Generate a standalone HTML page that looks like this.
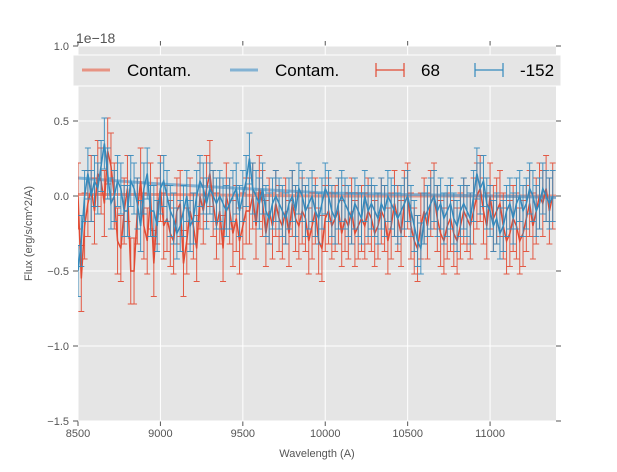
<!DOCTYPE html>
<html><head><meta charset="utf-8"><style>
body{margin:0;background:#fff;font-family:"Liberation Sans",sans-serif}
svg text{font-family:"Liberation Sans",sans-serif}
</style></head><body>
<svg id="c" width="617" height="467" xmlns="http://www.w3.org/2000/svg"></svg>
<script>
const wave=[8500,8520,8540,8560,8580,8600,8620,8640,8660,8680,8700,8720,8740,8760,8780,8800,8820,8840,8860,8880,8900,8920,8940,8960,8980,9000,9020,9040,9060,9080,9100,9120,9140,9160,9180,9200,9220,9240,9260,9280,9300,9320,9340,9360,9380,9400,9420,9440,9460,9480,9500,9520,9540,9560,9580,9600,9620,9640,9660,9680,9700,9720,9740,9760,9780,9800,9820,9840,9860,9880,9900,9920,9940,9960,9980,10000,10020,10040,10060,10080,10100,10120,10140,10160,10180,10200,10220,10240,10260,10280,10300,10320,10340,10360,10380,10400,10420,10440,10460,10480,10500,10520,10540,10560,10580,10600,10620,10640,10660,10680,10700,10720,10740,10760,10780,10800,10820,10840,10860,10880,10900,10920,10940,10960,10980,11000,11020,11040,11060,11080,11100,11120,11140,11160,11180,11200,11220,11240,11260,11280,11300,11320,11340,11360,11380];
const flux68=[0.0,-0.55,-0.2,-0.05,0.05,-0.1,0.15,0.1,-0.05,0.3,
0.2,0.0,-0.3,-0.35,-0.1,0.05,-0.5,-0.5,-0.1,0.1,
-0.2,-0.3,0.0,-0.45,-0.1,0.05,-0.2,-0.15,-0.25,-0.3,
-0.1,-0.05,-0.45,-0.3,-0.1,-0.2,-0.35,0.0,-0.1,0.05,
0.15,-0.05,-0.2,-0.1,-0.35,0.0,-0.1,-0.25,-0.15,-0.3,
-0.2,-0.1,-0.1,0.0,-0.2,0.05,-0.05,-0.25,-0.1,-0.2,
-0.05,-0.15,-0.2,-0.1,-0.25,-0.05,-0.15,-0.2,-0.1,-0.15,
-0.3,-0.2,-0.1,-0.3,-0.35,-0.15,-0.1,-0.2,-0.15,-0.1,
-0.25,-0.15,-0.2,-0.1,-0.25,-0.2,-0.15,-0.2,-0.1,-0.15,
-0.25,-0.2,-0.1,-0.15,-0.3,-0.2,-0.05,-0.15,-0.25,-0.05,
0.0,-0.2,-0.3,-0.35,-0.2,-0.1,-0.2,-0.05,0.0,-0.15,
-0.25,-0.3,-0.2,-0.15,-0.25,-0.3,-0.2,-0.1,-0.15,-0.2,
-0.1,0.0,0.05,-0.1,-0.2,0.0,-0.15,-0.1,-0.05,-0.2,
-0.3,-0.25,-0.15,-0.2,-0.3,-0.25,-0.15,-0.05,-0.2,-0.1,
0.0,-0.05,0.05,-0.1,0.0];
const flux152=[-0.5,-0.3,0.0,0.15,0.0,0.1,0.05,0.2,0.35,0.15,
-0.05,0.0,0.1,0.05,-0.1,-0.1,0.1,0.05,-0.05,-0.2,
0.05,0.15,-0.1,-0.1,-0.2,0.05,0.1,0.0,-0.1,-0.15,
-0.25,-0.2,-0.1,0.0,-0.2,-0.15,0.0,0.1,0.05,-0.05,
0.05,0.0,-0.05,0.0,-0.05,-0.1,-0.05,0.0,0.05,-0.1,
0.0,0.1,0.25,0.05,0.0,-0.05,0.05,-0.1,-0.15,-0.05,
0.0,-0.05,-0.1,-0.15,-0.05,0.0,-0.1,0.05,0.0,-0.1,
-0.05,0.0,-0.1,-0.15,-0.05,0.05,0.0,-0.1,-0.15,-0.05,
0.0,-0.05,-0.1,-0.15,-0.05,-0.1,-0.15,0.0,-0.1,-0.05,
-0.1,-0.15,-0.05,-0.1,0.0,-0.05,-0.1,-0.15,-0.1,-0.05,
0.0,-0.1,-0.2,-0.3,-0.35,-0.15,-0.1,-0.05,0.0,-0.1,
-0.05,-0.15,-0.1,-0.05,-0.15,-0.2,-0.1,-0.05,-0.1,-0.15,
0.0,0.15,0.05,0.1,-0.05,-0.1,-0.2,-0.15,-0.25,-0.2,
-0.1,-0.05,-0.15,-0.05,0.0,-0.1,-0.05,0.05,0.0,-0.1,
-0.05,0.05,0.0,-0.05,0.0];
const err68=0.22, err152=0.17;
const contamX=[8500,9000,9500,10000,10500,11000,11400];
const contam68=[0.01,0.01,0.005,0.0,0.0,0.0,0.0];
const contam152=[0.12,0.08,0.05,0.02,0.01,0.0,-0.01];
const xTicks=[8500,9000,9500,10000,10500,11000];
const yTicks=[1.0,0.5,0.0,-0.5,-1.0,-1.5];
const yLabels=["1.0","0.5","0.0","\u22120.5","\u22121.0","\u22121.5"];

const NS="http://www.w3.org/2000/svg", svg=document.getElementById('c');
const L=78,R=556,T=46,B=421;
const X=v=>L+(v-8500)/(11400-8500)*(R-L);
const Y=v=>T+(1.0-v)/2.5*(B-T);
function mk(tag,at,parent){const e=document.createElementNS(NS,tag);for(const k in at)e.setAttribute(k,at[k]);(parent||svg).appendChild(e);return e;}
const bg=mk('rect',{x:L,y:T,width:R-L,height:B-T,fill:'#e5e5e5'});


xTicks.forEach(t=>{const g=mk('line',{x1:X(t),x2:X(t),y1:T,y2:B,stroke:'#fff','stroke-width':1});

mk('line',{x1:X(t),x2:X(t),y1:B,y2:B+5,stroke:'#555'});mk('line',{x1:X(t),x2:X(t),y1:T-5,y2:T,stroke:'#555'});
const tx=mk('text',{x:X(t),y:B+16,'font-size':11,fill:'#555','text-anchor':'middle'});tx.textContent=t;
});
yTicks.forEach((t,i)=>{const g=mk('line',{x1:L,x2:R,y1:Y(t),y2:Y(t),stroke:'#fff','stroke-width':1});

mk('line',{x1:L-5,x2:L,y1:Y(t),y2:Y(t),stroke:'#555'});mk('line',{x1:R,x2:R+5,y1:Y(t),y2:Y(t),stroke:'#555'});
const tx=mk('text',{x:L-9,y:Y(t)+4,'font-size':11,fill:'#555','text-anchor':'end'});tx.textContent=yLabels[i];
});
const clip=mk('clipPath',{id:'cp'});mk('rect',{x:L,y:T,width:R-L,height:B-T},clip);
const g=mk('g',{'clip-path':'url(#cp)'});
function cline(xs,ys,col,name){const p=mk('polyline',{points:xs.map((x,i)=>X(x)+','+Y(ys[i])).join(' '),fill:'none',stroke:col,'stroke-width':3,'stroke-opacity':0.7},g);
}
cline(contamX,contam68,'#e8705a','contam-line-68');
cline(contamX,contam152,'#5a9ccc','contam-line-152');
function series(ys,err,col,name){const eg=mk('g',{stroke:col,'stroke-width':1,'stroke-opacity':0.9},g);
wave.forEach((w,i)=>{const x=X(w),y1=Y(ys[i]+err),y2=Y(ys[i]-err);
const e=mk('path',{d:`M${x},${y1}V${y2}M${x-3},${y1}h6M${x-3},${y2}h6`,fill:'none'},eg);
});
const p=mk('polyline',{points:wave.map((w,i)=>X(w)+','+Y(ys[i])).join(' '),fill:'none',stroke:col,'stroke-width':1.5},g);
}
series(flux68,err68,'#e24a33','flux-68');
series(flux152,err152,'#348abd','flux-152');
const off=mk('text',{x:76,y:43,'font-size':14,fill:'#555'});off.textContent='1e\u221218';

const xl=mk('text',{x:(L+R)/2,y:457,'font-size':11,fill:'#555','text-anchor':'middle'});xl.textContent='Wavelength (A)';

const yl=mk('text',{x:32,y:(T+B)/2,'font-size':11,fill:'#555','text-anchor':'middle',transform:`rotate(-90 32 ${(T+B)/2})`});yl.textContent='Flux (erg/s/cm^2/A)';

const lg=mk('g',{});
mk('rect',{x:73,y:55,width:488,height:31,fill:'#e5e5e5',stroke:'#fff','stroke-width':1},lg);
function entry(x,col,label,eb,name){const e=mk('g',{},lg);
if(eb){mk('path',{d:`M${x},70H${x+28}M${x},63V77M${x+28},63V77`,stroke:col,'stroke-width':1.2,fill:'none'},e);}
else mk('line',{x1:x,x2:x+28,y1:70,y2:70,stroke:col,'stroke-width':3,'stroke-opacity':0.7},e);
const t=mk('text',{x:x+45,y:76,'font-size':17,fill:'#000'},e);t.textContent=label;}
entry(82,'#e8705a','Contam.',false,'legend-entry-contam-68');
entry(230,'#5a9ccc','Contam.',false,'legend-entry-contam-152');
entry(376,'#e24a33','68',true,'legend-entry-68');
entry(475,'#348abd','-152',true,'legend-entry-152');
</script>
</body></html>
